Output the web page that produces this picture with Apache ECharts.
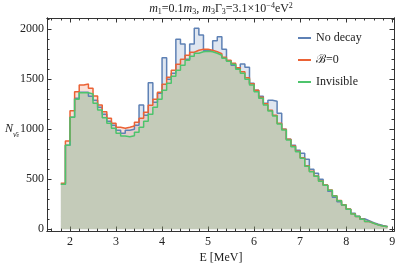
<!DOCTYPE html>
<html><head><meta charset="utf-8">
<script src="https://cdn.jsdelivr.net/npm/echarts@6/dist/echarts.min.js"></script>
<style>html,body{margin:0;padding:0;background:#fff}#c{width:399px;height:267px}</style>
</head><body><div id="c"></div>
<script>
// bin edges (MeV)
const binEdges = [1.8,1.9,2.0,2.1,2.2,2.3,2.4,2.5,2.6,2.7,2.8,2.9,3.0,3.1,3.2,3.3,3.4,3.5,3.6,3.7,3.8,3.9,4.0,4.1,4.2,4.3,4.4,4.5,4.6,4.7,4.8,4.9,5.0,5.1,5.2,5.3,5.4,5.5,5.6,5.7,5.8,5.9,6.0,6.1,6.2,6.3,6.4,6.5,6.6,6.7,6.8,6.9,7.0,7.1,7.2,7.3,7.4,7.5,7.6,7.7,7.8,7.9,8.0,8.1,8.2,8.3,8.4,8.5,8.6,8.7,8.8,8.9];
const noDecay = [450,840,1120,1310,1370,1370,1330,1290,1220,1150,1080,1040,990,960,990,1000,1040,1243,1140,1466,1270,1360,1716,1500,1560,1900,1853,1700,1853,2010,1943,1790,1780,1886,1926,1800,1686,1640,1610,1653,1620,1460,1390,1330,1260,1290,1280,1160,1000,900,840,790,760,700,600,560,500,440,380,320,275,240,200,160,130,105,85,65,50,38,28];
const bZero = [460,883,1186,1376,1443,1453,1410,1333,1243,1176,1110,1060,1020,1010,1020,1033,1070,1110,1170,1240,1300,1370,1450,1520,1590,1650,1700,1740,1770,1790,1800,1800,1790,1775,1755,1720,1690,1660,1615,1575,1515,1455,1390,1320,1255,1190,1140,1060,1000,900,832,780,715,635,580,533,483,442,392,335,288,245,202,155,128,101,78,61,44,34,26];
const invisible = [450,840,1120,1300,1366,1366,1353,1260,1193,1116,1060,1010,960,933,926,935,970,1020,1080,1150,1220,1300,1390,1460,1530,1590,1640,1690,1730,1760,1775,1780,1775,1760,1740,1710,1680,1650,1600,1560,1500,1443,1376,1310,1243,1183,1133,1053,993,893,826,776,710,630,575,530,480,440,390,333,286,243,200,153,127,100,77,60,43,33,25];
const seriesNames = ['No decay','\u212C=0','Invisible'];
const xMajorTicks = [2,3,4,5,6,7,8,9];
const xMinorTicks = [1.6,1.8,2.2,2.4,2.6,2.8,3.2,3.4,3.6,3.8,4.2,4.4,4.6,4.8,5.2,5.4,5.6,5.8,6.2,6.4,6.6,6.8,7.2,7.4,7.6,7.8,8.2,8.4,8.6,8.8];
const yMajorTicks = [0,500,1000,1500,2000];
const yMinorTicks = [100,200,300,400,600,700,800,900,1100,1200,1300,1400,1600,1700,1800,1900,2100];

const colors = ['#5E81B5','#EB6235','#4DC46C'];
const FONT = '"Liberation Serif","Times New Roman",serif';

function stepData(vals){
  const d = vals.map((v,i)=>[binEdges[i], v]);
  d.push([binEdges[vals.length], vals[vals.length-1]]);
  return d;
}
const XMIN = 1.5, XMAX = 9.04, YMIN = -17, YMAX = 2113;
const axisCol = '#333';
function xAx(pos, ticks, len, labels){
  return {type:'value', position:pos, min:XMIN, max:XMAX,
    axisLine:{show:true, onZero:false, lineStyle:{color:axisCol,width:1}},
    axisTick:{show:true, inside:true, length:len, customValues:ticks, lineStyle:{color:axisCol,width:1}},
    axisLabel:{show:labels, customValues:ticks, formatter:v=>String(v), color:'#222', fontFamily:FONT, fontSize:12, margin:5},
    splitLine:{show:false}};
}
function yAx(pos, ticks, len, labels){
  return {type:'value', position:pos, min:YMIN, max:YMAX,
    axisLine:{show:true, onZero:false, lineStyle:{color:axisCol,width:1}},
    axisTick:{show:true, inside:true, length:len, customValues:ticks, lineStyle:{color:axisCol,width:1}},
    axisLabel:{show:labels, customValues:ticks, formatter:v=>String(v), color:'#222', fontFamily:FONT, fontSize:12, margin:3},
    splitLine:{show:false}};
}
const chart = echarts.init(document.getElementById('c'), null, {renderer:'canvas'});
const data = [noDecay, bZero, invisible];
chart.setOption({
  animation:false,
  grid:{left:47, right:5, top:18, bottom:36, containLabel:false},
  xAxis:[xAx('bottom',xMajorTicks,4.5,true), xAx('bottom',xMinorTicks,2.5,false), xAx('top',xMajorTicks,4.5,false), xAx('top',xMinorTicks,2.5,false)],
  yAxis:[yAx('left',yMajorTicks,4.5,true), yAx('left',yMinorTicks,2.5,false), yAx('right',yMajorTicks,4.5,false), yAx('right',yMinorTicks,2.5,false)],
  legend:{orient:'vertical', left:298, top:31, padding:0, itemWidth:13, itemHeight:2, itemGap:8, icon:'rect',
    data:seriesNames, textStyle:{fontFamily:FONT, fontSize:12, color:'#222', lineHeight:14}},
  series: data.map((vals,k)=>({
    name:seriesNames[k], type:'line', step:'end', xAxisIndex:0, yAxisIndex:0,
    data:stepData(vals), symbol:'none', showSymbol:false,
    lineStyle:{color:colors[k], width:1.5},
    itemStyle:{color:colors[k]},
    areaStyle:{color:colors[k], opacity:0.2, origin:0}
  })),
  graphic:[
    {type:'text', x:221, y:9, style:{
      text:'{i|m}{s|1}{n|=0.1}{i|m}{s|3}{n|, }{i|m}{s|3}{n|\u0393}{s|3}{n|=3.1\u00D710}{p|\u22124}{n|eV}{p|2}',
      align:'center', verticalAlign:'middle',
      rich:{
        i:{fontFamily:FONT, fontSize:12, fontStyle:'italic', lineHeight:14, fill:'#222'},
        n:{fontFamily:FONT, fontSize:12, lineHeight:14, fill:'#222'},
        s:{fontFamily:FONT, fontSize:8, lineHeight:14, verticalAlign:'bottom', fill:'#222'},
        p:{fontFamily:FONT, fontSize:8, lineHeight:14, verticalAlign:'top', fill:'#222'}
      }}},
    {type:'text', x:12, y:129, style:{
      text:'{i|N}{s|\u03BD\u0304}{e|e}',
      align:'center', verticalAlign:'middle',
      rich:{
        i:{fontFamily:FONT, fontSize:12, fontStyle:'italic', lineHeight:16, fill:'#222'},
        s:{fontFamily:FONT, fontSize:8, fontStyle:'italic', lineHeight:16, verticalAlign:'bottom', fill:'#222'},
        e:{fontFamily:FONT, fontSize:6, fontStyle:'italic', lineHeight:19, verticalAlign:'bottom', fill:'#222'}
      }}},
    {type:'text', x:221, y:258, style:{text:'E [MeV]', font:'12px '+FONT, fill:'#222', align:'center', verticalAlign:'middle'}}
  ]
});
</script></body></html>
